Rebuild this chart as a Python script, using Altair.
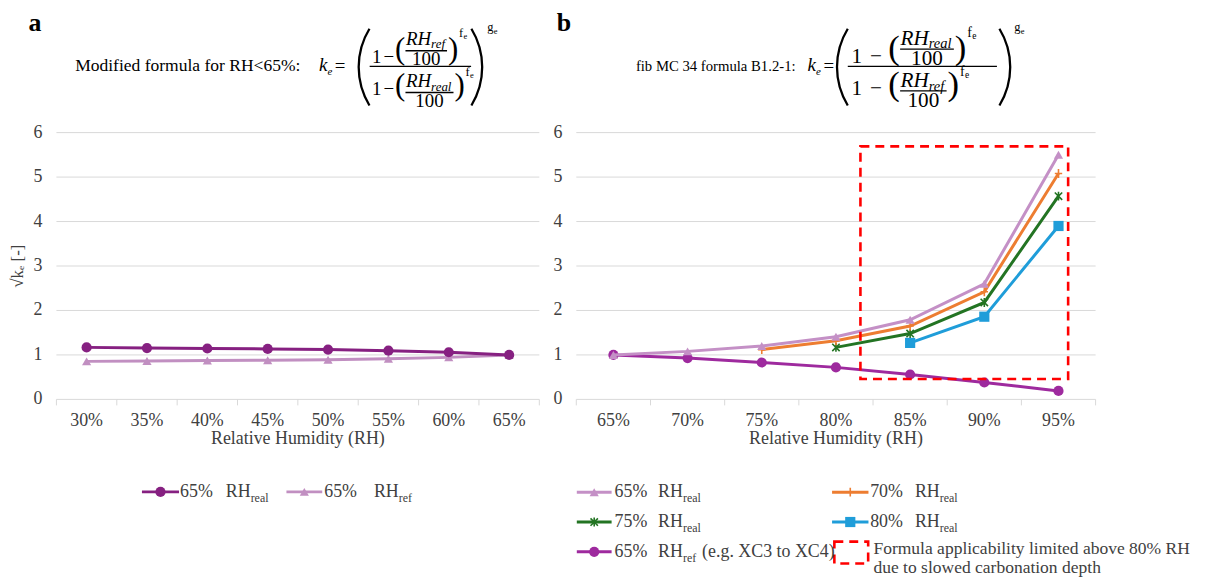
import math
import altair as alt
import pandas as pd

# ---------------- data ----------------
cats_a = ["30%", "35%", "40%", "45%", "50%", "55%", "60%", "65%"]
a_rh_real = [1.17, 1.155, 1.145, 1.135, 1.12, 1.095, 1.06, 1.0]
a_rh_ref = [0.855, 0.865, 0.875, 0.88, 0.893, 0.913, 0.945, 1.0]

cats_b = ["65%", "70%", "75%", "80%", "85%", "90%", "95%"]
b_65_real = [1.0, 1.08, 1.2, 1.41, 1.79, 2.6, 5.5]
b_70_real = [None, None, 1.12, 1.32, 1.65, 2.42, 5.08]
b_75_real = [None, None, None, 1.17, 1.48, 2.18, 4.57]
b_80_real = [None, None, None, None, 1.27, 1.86, 3.9]
b_65_ref = [1.0, 0.93, 0.83, 0.72, 0.56, 0.38, 0.19]

y_ticks = [0, 1, 2, 3, 4, 5, 6]
box_x = [3.33, 6.13]   # highlighted region, category-index units
box_y = [0.46, 5.69]

# ---------------- styling / layout ----------------
FONT = "Liberation Serif"
GRID = "#d9d9d9"
TXT = "#404040"
C_A_REAL = "#862081"
C_A_REF = "#c18fc1"
C_B_65 = "#c490c6"
C_B_70 = "#ed7d31"
C_B_75 = "#237423"
C_B_80 = "#1f9dd9"
C_B_REF = "#9e2a9e"
RED = "#ff0000"

OX, OY = 56.7, 131.7          # page position of plot origin
W, H = 1045.0, 268.3
A_RANGE = [0.0, 485.6]
B_RANGE = [522.8, 1045.0]

ys = alt.Scale(domain=[0, 6], nice=False, zero=False)
xa = alt.Scale(domain=[-0.5, len(cats_a) - 0.5], range=A_RANGE, nice=False, zero=False)
xb = alt.Scale(domain=[-0.5, len(cats_b) - 0.5], range=B_RANGE, nice=False, zero=False)

ASTER = "M-1,-1L1,1M-1,1L1,-1M0,-1.2L0,1.2"
PLUS = "M-1,0L1,0M0,-1.2L0,1.2"
S_CIRC, S_TRI, S_SQ, S_STAR = 105, 85, 105, 55

ONE = alt.Data(values=[{"k": 0}])


def rx(x):
    return x - OX


def ry(y):
    return y - OY


def frame(cats, xs):
    n = len(cats)
    g = alt.Chart(pd.DataFrame({"v": y_ticks})).mark_rule(color=GRID, strokeWidth=1).encode(
        y=alt.Y("v:Q", scale=ys, axis=None),
        x=alt.X(datum=-0.5, scale=xs, axis=None),
        x2=alt.X2(datum=n - 0.5))
    t = alt.Chart(pd.DataFrame({"b": [i - 0.5 for i in range(n + 1)]})).mark_rule(
        color=GRID, strokeWidth=1).encode(
        x=alt.X("b:Q", scale=xs, axis=None), y=alt.value(H), y2=alt.value(H + 6))
    xl = alt.Chart(pd.DataFrame({"i": list(range(n)), "c": cats})).mark_text(
        font=FONT, fontSize=18, color=TXT, baseline="middle").encode(
        x=alt.X("i:Q", scale=xs, axis=None), y=alt.value(H + 21.7), text="c:N")
    yl = alt.Chart(pd.DataFrame({"v": y_ticks})).mark_text(
        font=FONT, fontSize=18, color=TXT, baseline="middle", align="right", dx=-14).encode(
        y=alt.Y("v:Q", scale=ys, axis=None), x=alt.X(datum=-0.5, scale=xs, axis=None), text="v:Q")
    return [g, t, xl, yl]


def series(vals, xs, color, shape, size, filled, lw=3.0, mw=1.6):
    df = pd.DataFrame({"i": list(range(len(vals))), "v": vals}).dropna()
    base = alt.Chart(df).encode(x=alt.X("i:Q", scale=xs, axis=None),
                                y=alt.Y("v:Q", scale=ys, axis=None))
    return [base.mark_line(color=color, strokeWidth=lw),
            base.mark_point(shape=shape, size=size, filled=filled, color=color,
                            opacity=1, strokeWidth=mw)]


# ---------------- panels ----------------
layers_a = frame(cats_a, xa)
layers_a += series(a_rh_ref, xa, C_A_REF, "triangle-up", S_TRI, True)
layers_a += series(a_rh_real, xa, C_A_REAL, "circle", S_CIRC, True)
panel_a = alt.layer(*layers_a)

box = alt.Chart(ONE).mark_rect(fillOpacity=0, stroke=RED, strokeWidth=2.6,
                               strokeDash=[9, 6]).encode(
    x=alt.X(datum=box_x[0], scale=xb, axis=None), x2=alt.X2(datum=box_x[1]),
    y=alt.Y(datum=box_y[1], scale=ys, axis=None), y2=alt.Y2(datum=box_y[0]))

layers_b = frame(cats_b, xb)
layers_b += series(b_65_ref, xb, C_B_REF, "circle", S_CIRC, True)
layers_b += series(b_80_real, xb, C_B_80, "square", S_SQ, True)
layers_b += series(b_75_real, xb, C_B_75, ASTER, S_STAR, False)
layers_b += series(b_70_real, xb, C_B_70, PLUS, S_STAR, False)
layers_b += series(b_65_real, xb, C_B_65, "triangle-up", S_TRI, True)
layers_b += [box]
panel_b = alt.layer(*layers_b)

# ---------------- annotations ----------------
texts = []   # page coordinates
bars = []
extra = []


def T(x, y, t, s=18, style="normal", weight="normal", align="left",
      baseline="alphabetic", color="#000000"):
    texts.append(dict(x=rx(x), y=ry(y), t=t, s=s, style=style, weight=weight,
                      align=align, baseline=baseline, color=color))


def paren_arc(cx, cy, left, R=75.2, a=0.548, th=2.3):
    c = 1.5 * math.pi if left else 0.5 * math.pi
    return alt.Chart(ONE).mark_arc(radius=R, radius2=R - th, theta=c - a, theta2=c + a,
                                   color="#000000").encode(
        x=alt.value(rx(cx)), y=alt.value(ry(cy)))


SUBW = {"ref": 14.5, "real": 21.0}


def formula(kx, eqx, lp_left, F, sx, fs, bar_len, rp_right, gx, label, lab_size, lab_right,
            top_sub, bot_sub):
    T(lab_right, 70, label, lab_size, align="right")
    T(kx, 69.5, "k", 19, "italic")
    T(kx + 8.5, 74, "e", 11, "italic")
    T(eqx, 70.5, "=", 19)
    rows = [
        dict(sub=top_sub, b1=61.5, bp=57.5, brh=44, bsub=46.5, b100=63.5, bf=36),
        dict(sub=bot_sub, b1=94, bp=93.5, brh=85.5, bsub=89.5, b100=105.5, bf=75),
    ]
    big = 19 * fs
    for r in rows:
        x1 = F + 2.3 * sx
        xm = x1 + 11.7 * sx
        xp = xm + 11.5 * sx
        xrh = xp + 11 * fs
        xsub = xrh + 25.3 * fs
        bend = xsub + (SUBW[r["sub"]] + 1.5) * fs
        bstart = xrh - 0.5
        bar_y = r["b100"] - 0.68 * big - 1.2
        T(x1, r["b1"], "1", big)
        T(xm, r["b1"], "\u2212", big)
        T(xp, r["bp"], "(", 31 * fs)
        T(xrh, r["brh"], "RH", big, "italic")
        T(xsub, r["bsub"], r["sub"], 13 * fs, "italic")
        bars.append(dict(x=rx(bstart), x2=rx(bend), y=ry(bar_y)))
        T((bstart + bend) / 2, r["b100"], "100", big, align="center")
        T(bend + 1, r["bp"], ")", 31 * fs)
        T(bend + 12 * fs, r["bf"], "f", 12.5 * fs)
        T(bend + 16.5 * fs, r["bf"] + 2, "e", 8.5 * fs)
    bars.append(dict(x=rx(F), x2=rx(F + bar_len), y=ry(65)))
    T(gx, 30, "g", 12.5)
    T(gx + 6.5, 33, "e", 8.5)
    extra.append(paren_arc(lp_left + 75.2, 65.85, True))
    extra.append(paren_arc(rp_right - 75.2, 65.85, False))


# panel letters
T(35, 22, "a", 26, weight="bold", align="center", baseline="middle")
T(567, 22, "b", 26, weight="bold", align="center", baseline="middle")

formula(kx=320.7, eqx=336.5, lp_left=359.5, F=371.7, sx=1.0, fs=1.0, bar_len=102,
        rp_right=486, gx=490,
        label="Modified formula for RH<65%:", lab_size=17.6, lab_right=302,
        top_sub="ref", bot_sub="real")
formula(kx=812, eqx=828, lp_left=840.5, F=852.5, sx=1.6, fs=1.12, bar_len=150,
        rp_right=1017, gx=1020,
        label="fib MC 34 formula B1.2-1:", lab_size=14.8, lab_right=800,
        top_sub="real", bot_sub="ref")

# axis titles
T(299.5, 440, "Relative Humidity (RH)", 18, align="center", baseline="middle", color=TXT)
T(840.6, 440, "Relative Humidity (RH)", 18, align="center", baseline="middle", color=TXT)
ytitle = alt.Chart(ONE).mark_text(font=FONT, fontSize=17, color=TXT, angle=270,
                                  baseline="middle", align="center", text="\u221ak\u2091 [-]").encode(
    x=alt.value(rx(18)), y=alt.value(ry(266)))


def glyph(x1, x2, y, color, shape, size, filled, lw=3.0, mw=1.6):
    ln = alt.Chart(ONE).mark_rule(color=color, strokeWidth=lw).encode(
        x=alt.value(rx(x1)), x2=alt.value(rx(x2)), y=alt.value(ry(y)))
    pt = alt.Chart(ONE).mark_point(shape=shape, size=size, filled=filled, color=color,
                                   opacity=1, strokeWidth=mw).encode(
        x=alt.value(rx((x1 + x2) / 2)), y=alt.value(ry(y)))
    return [ln, pt]


def rh(x, y, sub):
    T(x, y, "RH", 18, baseline="middle", color=TXT)
    T(x + 25, y + 6, sub, 12, baseline="middle", color=TXT)


# legend a
LY = 493
extra += glyph(142.7, 180, LY, C_A_REAL, "circle", S_CIRC, True)
T(181, LY, "65%", 18, baseline="middle", color=TXT)
rh(227, LY, "real")
extra += glyph(288, 324, LY, C_A_REF, "triangle-up", S_TRI, True)
T(326, LY, "65%", 18, baseline="middle", color=TXT)
rh(376, LY, "ref")

# legend b
rows_y = [493.3, 523.3, 553.3]
extra += glyph(580, 615, rows_y[0], C_B_65, "triangle-up", S_TRI, True)
T(618, rows_y[0], "65%", 18, baseline="middle", color=TXT)
rh(661.7, rows_y[0], "real")
extra += glyph(836.7, 873.3, rows_y[0], C_B_70, PLUS, S_STAR, False)
T(875, rows_y[0], "70%", 18, baseline="middle", color=TXT)
rh(920, rows_y[0], "real")
extra += glyph(580, 615, rows_y[1], C_B_75, ASTER, S_STAR, False)
T(618, rows_y[1], "75%", 18, baseline="middle", color=TXT)
rh(661.7, rows_y[1], "real")
extra += glyph(836.7, 873.3, rows_y[1], C_B_80, "square", S_SQ, True)
T(875, rows_y[1], "80%", 18, baseline="middle", color=TXT)
rh(920, rows_y[1], "real")
extra += glyph(580, 615, rows_y[2], C_B_REF, "circle", S_CIRC, True)
T(618, rows_y[2], "65%", 18, baseline="middle", color=TXT)
rh(661.7, rows_y[2], "ref")
T(706, rows_y[2], "(e.g. XC3 to XC4)", 18, baseline="middle", color=TXT)
extra.append(alt.Chart(ONE).mark_rect(fillOpacity=0, stroke=RED, strokeWidth=2.6,
                                      strokeDash=[9, 6]).encode(
    x=alt.value(rx(839)), x2=alt.value(rx(873)), y=alt.value(ry(543)), y2=alt.value(ry(565))))
T(878.3, 550, "Formula applicability limited above 80% RH", 17.6, baseline="middle", color=TXT)
T(878.3, 570, "due to slowed carbonation depth", 17.6, baseline="middle", color=TXT)

# build annotation layers
ann = []
tdf = pd.DataFrame(texts)
for key, g in tdf.groupby(["style", "weight", "align", "baseline", "color"]):
    style, weight, align, baseline, color = key
    ann.append(alt.Chart(g[["x", "y", "t", "s"]]).mark_text(
        font=FONT, fontStyle=style, fontWeight=weight, align=align,
        baseline=baseline, color=color).encode(
        x=alt.X("x:Q", scale=None, axis=None), y=alt.Y("y:Q", scale=None, axis=None),
        text="t:N", size=alt.Size("s:Q", scale=None, legend=None)))

ann.append(alt.Chart(pd.DataFrame(bars)).mark_rule(color="#000000", strokeWidth=1.3).encode(
    x=alt.X("x:Q", scale=None, axis=None), x2="x2:Q", y=alt.Y("y:Q", scale=None, axis=None)))

chart = alt.layer(panel_a, panel_b, ytitle, *extra, *ann).resolve_scale(
    x="independent", y="independent"
).properties(
    width=W, height=H,
    autosize=alt.AutoSizeParams(type="none"),
    padding={"left": OX - 8, "top": OY - 8, "right": 105, "bottom": 178},
).configure_view(stroke=None)

chart.save("out.html", embed_options={"renderer": "svg", "actions": False})
